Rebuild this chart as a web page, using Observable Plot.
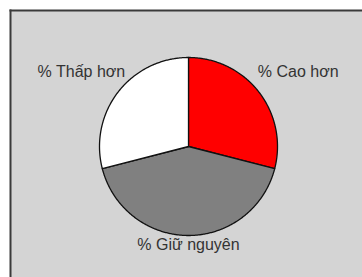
<!DOCTYPE html>
<html>
<head>
<meta charset="utf-8">
<script src="https://cdn.jsdelivr.net/npm/d3@7"></script>
<script src="https://cdn.jsdelivr.net/npm/@observablehq/plot@0.6"></script>
<style>
  html, body { margin: 0; padding: 0; background: #ffffff; }
  #chart svg { display: block; }
</style>
</head>
<body>
<div id="chart"></div>
<script>
// ---- data ----
const categories = ["% Cao hơn", "% Giữ nguyên", "% Thấp hơn"];
const shares = [29, 42, 29];
const sliceColors = ["#ff0000", "#808080", "#ffffff"];

// ---- layout ----
const W = 362, H = 277;
const cx = 188, cy = 146, R = 89;

const arcs = d3.pie().sort(null).startAngle(0).endAngle(2 * Math.PI)(shares);

// polygon outline of each slice in unit-radius coordinates (y up)
const outline = [];
arcs.forEach((a, i) => {
  const key = categories[i];
  outline.push({key, x: 0, y: 0});
  const n = Math.max(2, Math.ceil((a.endAngle - a.startAngle) / 0.01));
  for (let k = 0; k <= n; k++) {
    const t = a.startAngle + (a.endAngle - a.startAngle) * k / n;
    outline.push({key, x: Math.sin(t), y: Math.cos(t)});
  }
  outline.push({key, x: 0, y: 0});
});

// label anchor = outer edge at slice mid-angle
const labels = arcs.map((a, i) => {
  const m = (a.startAngle + a.endAngle) / 2;
  return {key: categories[i], x: Math.sin(m), y: Math.cos(m)};
});

const labelStyle = [
  {textAnchor: "start", dx: -1, dy: -20},
  {textAnchor: "middle", dx: 0, dy: 9},
  {textAnchor: "end", dx: 7, dy: -20}
];

const textMarks = labels.map((l, i) => Plot.text([l], {
  x: "x", y: "y", text: "key",
  textAnchor: labelStyle[i].textAnchor,
  dx: labelStyle[i].dx, dy: labelStyle[i].dy,
  fill: "#333333",
  fontSize: 16,
  fontFamily: "Liberation Sans, Arial, sans-serif"
}));

const chart = Plot.plot({
  width: W,
  height: H,
  marginTop: 10,
  marginLeft: 10,
  marginRight: 0,
  marginBottom: 0,
  style: {background: "#ffffff", fontFamily: "Liberation Sans, Arial, sans-serif"},
  x: {domain: [-1, 1], range: [cx - R, cx + R], axis: null},
  y: {domain: [-1, 1], range: [cy + R, cy - R], axis: null},
  color: {domain: categories, range: sliceColors},
  marks: [
    Plot.frame({fill: "#d4d4d4", stroke: "none"}),
    Plot.frame({anchor: "top", stroke: "#3a3a3a", strokeWidth: 2}),
    Plot.frame({anchor: "left", stroke: "#3a3a3a", strokeWidth: 2}),
    Plot.line(outline, {
      x: "x", y: "y", z: "key", fill: "key",
      stroke: "#111111", strokeWidth: 1.3, strokeLinejoin: "round"
    }),
    ...textMarks
  ]
});

document.getElementById("chart").appendChild(chart);
</script>
</body>
</html>
